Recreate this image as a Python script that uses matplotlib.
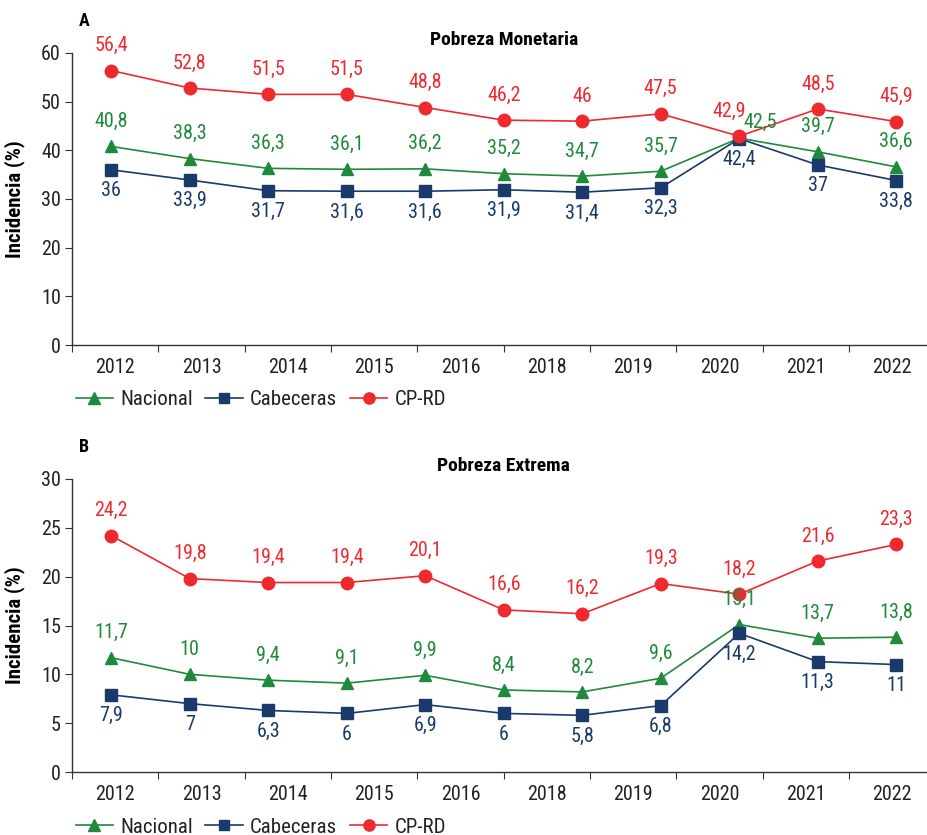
import numpy as np
import matplotlib.pyplot as plt

plt.rcParams['font.family'] = ['Roboto Condensed', 'Liberation Sans Narrow', 'Roboto', 'DejaVu Sans']

anios = ['2012', '2013', '2014', '2015', '2016', '2018', '2019', '2020', '2021', '2022']

# Panel A - Pobreza Monetaria
nacional_a = [40.8, 38.3, 36.3, 36.1, 36.2, 35.2, 34.7, 35.7, 42.5, 39.7, 36.6]
cabeceras_a = [36, 33.9, 31.7, 31.6, 31.6, 31.9, 31.4, 32.3, 42.4, 37, 33.8]
cprd_a = [56.4, 52.8, 51.5, 51.5, 48.8, 46.2, 46, 47.5, 42.9, 48.5, 45.9]

# Panel B - Pobreza Extrema
nacional_b = [11.7, 10, 9.4, 9.1, 9.9, 8.4, 8.2, 9.6, 15.1, 13.7, 13.8]
cabeceras_b = [7.9, 7, 6.3, 6, 6.9, 6, 5.8, 6.8, 14.2, 11.3, 11]
cprd_b = [24.2, 19.8, 19.4, 19.4, 20.1, 16.6, 16.2, 19.3, 18.2, 21.6, 23.3]

verde = '#1f8a3c'
azul = '#1b3a6c'
rojo = '#ee2a2f'
gris = '#333333'


def fmt(v):
    return ('%g' % v).replace('.', ',')


def panel(ax, nac, cab, cp, ymax, ystep, titulo, letra, especiales):
    x = np.arange(len(nac))
    ax.plot(x, nac, color=verde, lw=1.2, marker='^', ms=9, label='Nacional')
    ax.plot(x, cab, color=azul, lw=1.2, marker='s', ms=8, label='Cabeceras')
    ax.plot(x, cp, color=rojo, lw=1.2, marker='o', ms=9, label='CP-RD')

    for serie, vals, col, dy in [('nac', nac, verde, 18), ('cab', cab, azul, -15),
                                 ('cp', cp, rojo, 18)]:
        for i, v in enumerate(vals):
            off = especiales.get((serie, i), (0, dy))
            ax.annotate(fmt(v), (i, v), xytext=off, textcoords='offset points',
                        ha='center', va='center', color=col, fontsize=14.5)

    ax.set_xlim(-0.5, 10.5)
    ax.set_ylim(0, ymax)
    ax.set_yticks(np.arange(0, ymax + 1, ystep))
    n = len(anios)
    w = 11 / n
    ax.set_xticks([-0.5 + w * k for k in range(n + 1)])
    ax.set_xticklabels([])
    ax.set_xticks([-0.5 + w * (k + 0.5) for k in range(n)], minor=True)
    ax.set_xticklabels(anios, minor=True)
    ax.tick_params(axis='x', which='major', direction='out', length=5, color=gris)
    ax.tick_params(axis='x', which='minor', length=0, pad=9, labelsize=14.5, labelcolor='#222222')
    ax.tick_params(axis='y', direction='out', length=5, color=gris, labelsize=14.5,
                   labelcolor='#222222', pad=3)
    for s in ['top', 'right']:
        ax.spines[s].set_visible(False)
    for s in ['left', 'bottom']:
        ax.spines[s].set_color(gris)
        ax.spines[s].set_linewidth(1)
    ax.set_ylabel('Incidencia (%)', fontsize=15, fontweight='bold')
    ax.yaxis.set_label_coords(-0.055, 0.5)
    ax.set_title(titulo, fontsize=14, fontweight='bold', pad=6)
    ax.text(0.008, 1.11, letra, transform=ax.transAxes, fontsize=13, fontweight='bold',
            ha='left', va='center')
    ax.legend(loc='upper left', bbox_to_anchor=(-0.008, -0.12), ncol=3, frameon=False,
              handlelength=1.8, handletextpad=0.35, columnspacing=0.6, borderpad=0,
              fontsize=15, labelcolor='#222222', markerscale=0.9)


fig = plt.figure(figsize=(9.27, 8.35), dpi=100)
ax1 = fig.add_axes([72 / 927, 1 - 345 / 835, 863.5 / 927, 292 / 835])
ax2 = fig.add_axes([72 / 927, 1 - 772 / 835, 863.5 / 927, 293 / 835])

panel(ax1, nacional_a, cabeceras_a, cprd_a, 60, 10, 'Pobreza Monetaria', 'A',
      {('cp', 8): (-7, 18), ('nac', 8): (15, 11)})
panel(ax2, nacional_b, cabeceras_b, cprd_b, 30, 5, 'Pobreza Extrema', 'B', {})

fig.savefig('out.png', dpi=100)
